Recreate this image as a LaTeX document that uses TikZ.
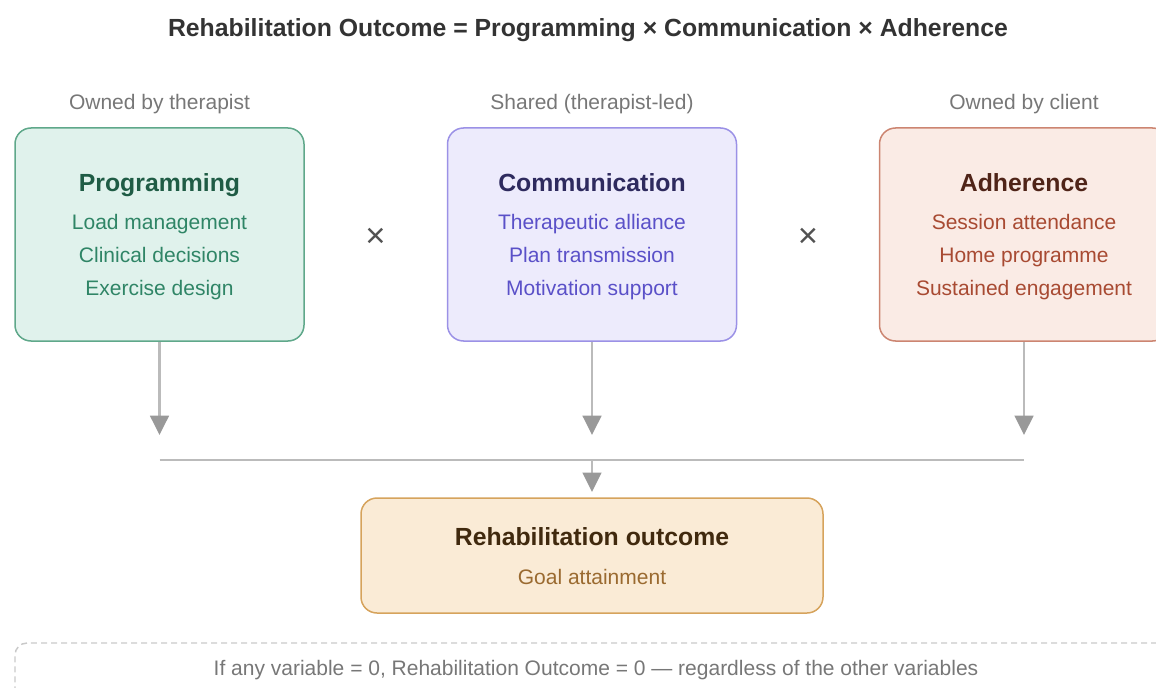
\documentclass[tikz,border=0pt]{standalone}
\usepackage{fontspec}
\setmainfont{Liberation Sans}
\usetikzlibrary{arrows.meta}

% palette
\definecolor{progFill}{HTML}{E0F2EC}
\definecolor{progLine}{HTML}{5FA88A}
\definecolor{progHead}{HTML}{1F5C45}
\definecolor{progText}{HTML}{2F8566}
\definecolor{commFill}{HTML}{EDEBFC}
\definecolor{commLine}{HTML}{9B91E6}
\definecolor{commHead}{HTML}{2E2A5E}
\definecolor{commText}{HTML}{5A50C8}
\definecolor{adhFill}{HTML}{FAEBE5}
\definecolor{adhLine}{HTML}{CC8571}
\definecolor{adhHead}{HTML}{4F2418}
\definecolor{adhText}{HTML}{A84A32}
\definecolor{outFill}{HTML}{FAEBD6}
\definecolor{outLine}{HTML}{D6A35C}
\definecolor{outHead}{HTML}{40290E}
\definecolor{outText}{HTML}{9A6A30}
\definecolor{wire}{HTML}{BBBBBB}
\definecolor{tipgray}{HTML}{999999}
\definecolor{note}{HTML}{777777}
\definecolor{ink}{HTML}{333333}

\begin{document}
\begin{tikzpicture}[x=0.75pt,y=-0.75pt,
  card/.style={draw, line width=1.125pt, rounded corners=12pt,
    minimum width=216.75pt, minimum height=159.75pt, inner sep=0pt},
  heading/.style={anchor=base, font=\fontsize{18.6pt}{22pt}\selectfont\bfseries},
  item/.style={anchor=base, font=\fontsize{15.75pt}{19pt}\selectfont},
  owner/.style={anchor=base, text=note, font=\fontsize{15.75pt}{19pt}\selectfont},
  times/.style={text=ink!85!white, font=\fontsize{26pt}{30pt}\selectfont},
  wireline/.style={draw=wire, line width=1.9pt},
  conn/.style={wireline, -{Triangle[length=14.5pt, width=14pt, color=tipgray]}}
]
\useasboundingbox (0,0) rectangle (1156,688);
\clip (0,0) rectangle (1156,688);

% headline
\node[anchor=base, text=ink, font=\fontsize{18.6pt}{22pt}\selectfont\bfseries]
  (title) at (588,37) {Rehabilitation Outcome = Programming × Communication × Adherence};

% ownership labels
\node[owner] (ownP) at (159.5,110) {Owned by therapist};
\node[owner] (ownC) at (592,110) {Shared (therapist-led)};
\node[owner] (ownA) at (1024,110) {Owned by client};

% the three factors
\node[card, fill=progFill, draw=progLine] (prog) at (159.5,234.5) {};
\node[card, fill=commFill, draw=commLine] (comm) at (592,234.5) {};
\node[card, fill=adhFill, draw=adhLine] (adh) at (1024,234.5) {};

\node[heading, text=progHead] (progT) at (159.5,191) {Programming};
\node[item, text=progText] (prog1) at (159.5,229) {Load management};
\node[item, text=progText] (prog2) at (159.5,262) {Clinical decisions};
\node[item, text=progText] (prog3) at (159.5,295) {Exercise design};

\node[heading, text=commHead] (commT) at (592,191) {Communication};
\node[item, text=commText] (comm1) at (592,229) {Therapeutic alliance};
\node[item, text=commText] (comm2) at (592,262) {Plan transmission};
\node[item, text=commText] (comm3) at (592,295) {Motivation support};

\node[heading, text=adhHead] (adhT) at (1024,191) {Adherence};
\node[item, text=adhText] (adh1) at (1024,229) {Session attendance};
\node[item, text=adhText] (adh2) at (1024,262) {Home programme};
\node[item, text=adhText] (adh3) at (1024,295) {Sustained engagement};

% multiplication signs between the factors
\node[times] (x1) at (375.5,238) {×};
\node[times] (x2) at (808,238) {×};

% result
\node[draw=outLine, fill=outFill, line width=1.125pt, rounded corners=12pt,
  minimum width=346.5pt, minimum height=86.25pt, inner sep=0pt] (out) at (592,555.5) {};
\node[heading, text=outHead] (outT) at (592,545) {Rehabilitation outcome};
\node[item, text=outText] (out1) at (592,584) {Goal attainment};

% connectors
\coordinate (tipP) at (159.5,435);
\coordinate (tipC) at (592,435);
\coordinate (tipA) at (1024,435);
\coordinate (busL) at (159.5,460);
\coordinate (busM) at (592,460);
\coordinate (busR) at (1024,460);
\draw[conn] (prog.south) -- (tipP);
\draw[conn] (comm.south) -- (tipC);
\draw[conn] (adh.south) -- (tipA);
\draw[wireline] (busL) -- (busR);
\draw[conn, shorten >=4pt] (busM) -- (out.north);

% footnote frame
\node[draw=wire!80!white, dashed, dash pattern=on 4.5pt off 3pt, line width=1.1pt,
  rounded corners=9pt, minimum width=865.5pt, minimum height=45pt, inner sep=0pt]
  (frame) at (592,673) {};
\node[item, text=note] (foot) at (596,675)
  {If any variable = 0, Rehabilitation Outcome = 0 — regardless of the other variables};
\end{tikzpicture}
\end{document}
